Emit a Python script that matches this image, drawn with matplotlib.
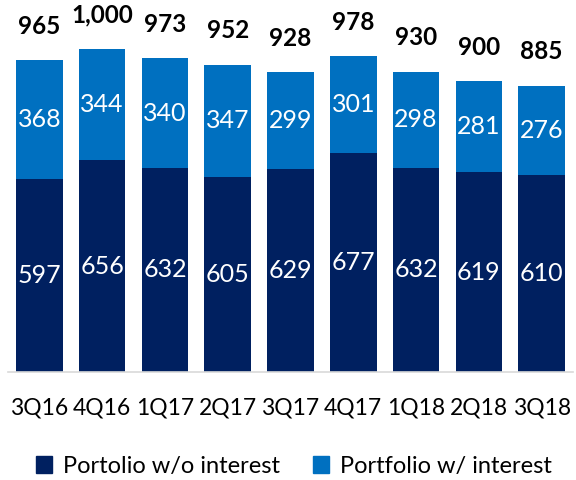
import matplotlib.pyplot as plt
from matplotlib.patches import Patch
import numpy as np

plt.rcParams['font.family'] = ['Lato', 'DejaVu Sans']

quarters = ['3Q16', '4Q16', '1Q17', '2Q17', '3Q17', '4Q17', '1Q18', '2Q18', '3Q18']
no_interest = [597, 656, 632, 605, 629, 677, 632, 619, 610]
with_interest = [368, 344, 340, 347, 299, 301, 298, 281, 276]
totals = ['965', '1,000', '973', '952', '928', '978', '930', '900', '885']

dark = '#002060'
light = '#0070C0'

fig = plt.figure(figsize=(5.76, 4.8), dpi=100)
ax = fig.add_axes([8 / 576, 1 - 372 / 480, 565 / 576, 352 / 480])

x = np.arange(len(quarters))
b1 = ax.bar(x, no_interest, width=0.74, color=dark)
b2 = ax.bar(x, with_interest, width=0.74, bottom=no_interest, color=light)

for i in range(len(x)):
    ax.text(x[i], no_interest[i] / 2, str(no_interest[i]), ha='center', va='center',
            color='white', fontsize=18)
    ax.text(x[i], no_interest[i] + with_interest[i] / 2, str(with_interest[i]),
            ha='center', va='center', color='white', fontsize=18)
    top = no_interest[i] + with_interest[i]
    ax.text(x[i], top + 105, totals[i], ha='center', va='center',
            fontsize=17.5, fontweight='bold', color='black')

ax.set_xlim(-0.5, 8.5)
ax.set_ylim(0, 1090)
ax.set_xticks(x)
ax.set_xticklabels(quarters, fontsize=16.5)
ax.tick_params(axis='x', length=0, pad=18)
ax.set_yticks([])
for s in ['top', 'right', 'left']:
    ax.spines[s].set_visible(False)
ax.spines['bottom'].set_color('#D9D9D9')
ax.spines['bottom'].set_linewidth(1.2)

handles = [Patch(color=dark, label='Portolio w/o interest'),
           Patch(color=light, label='Portfolio w/ interest')]
fig.legend(handles=handles, loc='center', bbox_to_anchor=(0.51, 1 - 466 / 480),
           ncol=2, frameon=False, fontsize=17, handlelength=0.7, handleheight=0.7,
           handletextpad=0.45, columnspacing=1.4)

fig.savefig('out.png', dpi=100)
